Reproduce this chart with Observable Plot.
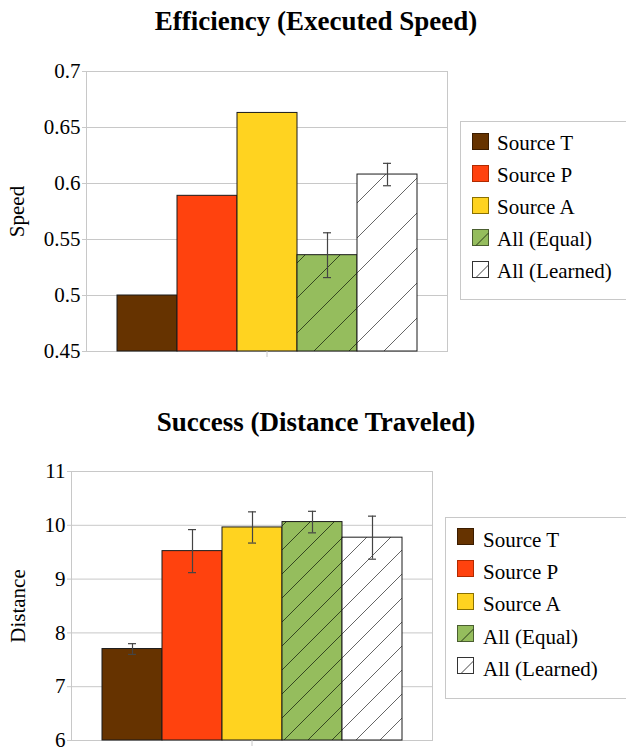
<!DOCTYPE html>
<html>
<head>
<meta charset="utf-8">
<script src="https://cdn.jsdelivr.net/npm/d3@7"></script>
<script src="https://cdn.jsdelivr.net/npm/@observablehq/plot@0.6"></script>
<style>
  body { margin: 0; background: #fff; }
  #wrap { position: relative; width: 626px; height: 747px; overflow: hidden; background: #fff;
          font-family: "Liberation Serif", "Times New Roman", serif; color: #000; }
  .title { position: absolute; left: 0; width: 632px; text-align: center; font-weight: bold;
           font-size: 27px; line-height: 27px; white-space: nowrap; }
  .chart { position: absolute; left: 0; }
  .legend { position: absolute; border: 1px solid #c8c8c8; border-right: none; background: #fff; }
  .row { position: absolute; left: 0; height: 17px; }
  .row svg { position: absolute; left: 0; top: 0; }
  .row span { position: absolute; top: 0; font-size: 21px; line-height: 21px; white-space: nowrap; }
</style>
</head>
<body>
<div id="wrap"></div>
<script>
const series = ["Source T", "Source P", "Source A", "All (Equal)", "All (Learned)"];
const speedMeans = [0.500, 0.589, 0.663, 0.536, 0.608];
const speedErrors = [null, null, null, 0.020, 0.010];
const distanceMeans = [7.70, 9.52, 9.96, 10.06, 9.77];
const distanceErrors = [0.10, 0.40, 0.29, 0.20, 0.40];
const speedTicks = [0.45, 0.5, 0.55, 0.6, 0.65, 0.7];
const distanceTicks = [6, 7, 8, 9, 10, 11];
const palette = ["#663300", "#ff420e", "#ffd320", "#95bd5d", "#ffffff"];
const hatchedSeries = ["All (Equal)", "All (Learned)"];
const titles = ["Efficiency (Executed Speed)", "Success (Distance Traveled)"];
const yLabels = ["Speed", "Distance"];

const wrap = document.getElementById("wrap");

function addHatch(svg, id, bg, stroke, s) {
  let defs = d3.select(svg).select("defs");
  if (defs.empty()) defs = d3.select(svg).insert("defs", ":first-child");
  const p = defs.append("pattern").attr("id", id)
    .attr("patternUnits", "userSpaceOnUse").attr("width", s).attr("height", s);
  p.append("rect").attr("width", s).attr("height", s).attr("fill", bg);
  p.append("path")
    .attr("d", `M-1,1L1,-1M0,${s}L${s},0M${s - 1},${s + 1}L${s + 1},${s - 1}`)
    .attr("stroke", stroke).attr("stroke-width", 0.9).attr("fill", "none");
}

function makeChart(cfg) {
  const {means, errors, ticks, label, width, height, mt, mb, ml, mr, hatch, prefix, labelOffset, top} = cfg;
  const rows = series.map((s, i) => ({
    series: s, group: "", mean: means[i], base: ticks[0],
    lo: errors[i] == null ? null : means[i] - errors[i],
    hi: errors[i] == null ? null : means[i] + errors[i]
  }));
  const errRows = rows.filter(d => d.hi != null);
  const fillRange = series.map((s, i) => hatchedSeries.includes(s) ? `url(#${prefix}-h${i})` : palette[i]);
  const svg = Plot.plot({
    width, height, marginTop: mt, marginBottom: mb, marginLeft: ml, marginRight: mr,
    style: {fontFamily: "Liberation Serif, Times New Roman, serif", fontSize: "21px", color: "#000", background: "transparent"},
    fx: {padding: 0},
    x: {domain: series, paddingInner: 0, paddingOuter: 0.508, axis: null},
    y: {domain: [ticks[0], ticks[ticks.length - 1]]},
    color: {domain: series, range: fillRange},
    marks: [
      Plot.gridY(ticks, {stroke: "#c8c8c8", strokeOpacity: 1}),
      Plot.frame({stroke: "#c8c8c8"}),
      Plot.barY(rows, {fx: "group", x: "series", y1: "base", y2: "mean", fill: "series", stroke: "#1a1a1a", strokeWidth: 1}),
      Plot.ruleX(errRows, {fx: "group", x: "series", y1: "lo", y2: "hi", stroke: "#444", strokeWidth: 1.2}),
      Plot.tickY(errRows, {fx: "group", x: "series", y: "hi", insetLeft: 26, insetRight: 26, stroke: "#444", strokeWidth: 1.2}),
      Plot.tickY(errRows, {fx: "group", x: "series", y: "lo", insetLeft: 26, insetRight: 26, stroke: "#444", strokeWidth: 1.2}),
      Plot.axisY(ticks, {tickSize: 4, tickPadding: 2, stroke: "#c8c8c8", tickFormat: d => String(d),
        label, labelAnchor: "center", labelArrow: "none", labelOffset, fontSize: 21}),
      Plot.axisFx({anchor: "bottom", tickSize: 6, tickFormat: () => "", stroke: "#c8c8c8", label: null})
    ]
  });
  series.forEach((s, i) => {
    if (hatchedSeries.includes(s)) addHatch(svg, `${prefix}-h${i}`, palette[i], i === 3 ? "#2a3a1a" : "#555", hatch);
  });
  svg.classList.add("chart");
  svg.style.top = top + "px";
  wrap.appendChild(svg);
}

function makeTitle(text, top) {
  const d = document.createElement("div");
  d.className = "title";
  d.style.top = top + "px";
  d.textContent = text;
  wrap.appendChild(d);
}

function makeLegend(box, rowTop, step, textLeft, textDy) {
  const lg = document.createElement("div");
  lg.className = "legend";
  Object.assign(lg.style, {left: box.left + "px", top: box.top + "px", width: (626 - box.left + 10) + "px", height: box.height + "px"});
  series.forEach((s, i) => {
    const r = document.createElement("div");
    r.className = "row";
    r.style.top = (rowTop + i * step) + "px";
    r.style.left = box.pad + "px";
    const hatched = hatchedSeries.includes(s);
    const edge = i === 0 ? "#3a1c00" : i === 1 ? "#b02a00" : i === 2 ? "#8a7000" : i === 3 ? "#4a5e30" : "#333";
    r.innerHTML = `<svg width="17" height="17"><rect x="0.5" y="0.5" width="16" height="16" fill="${palette[i]}" stroke="${edge}" stroke-width="1"/>` +
      (hatched ? `<line x1="4" y1="16.5" x2="16.5" y2="4" stroke="${i === 3 ? '#2a3a1a' : '#444'}" stroke-width="1"/>` : "") +
      `</svg><span style="left:${textLeft}px;top:${textDy}px">${s}</span>`;
    lg.appendChild(r);
  });
  wrap.appendChild(lg);
}

makeTitle(titles[0], 8);
makeChart({means: speedMeans, errors: speedErrors, ticks: speedTicks, label: yLabels[0],
  width: 450, height: 380, mt: 71, mb: 29, ml: 86, mr: 3, hatch: 35, prefix: "spd", labelOffset: 77, top: 0});
makeLegend({left: 460, top: 121, height: 177, pad: 11}, 11, 32.1, 25, 0);

makeTitle(titles[1], 409);
makeChart({means: distanceMeans, errors: distanceErrors, ticks: distanceTicks, label: yLabels[1],
  width: 440, height: 347, mt: 71, mb: 7, ml: 71, mr: 8, hatch: 24, prefix: "dst", labelOffset: 61, top: 400});
makeLegend({left: 445, top: 517, height: 180, pad: 11}, 10, 32.35, 26, 1.5);
</script>
</body>
</html>
